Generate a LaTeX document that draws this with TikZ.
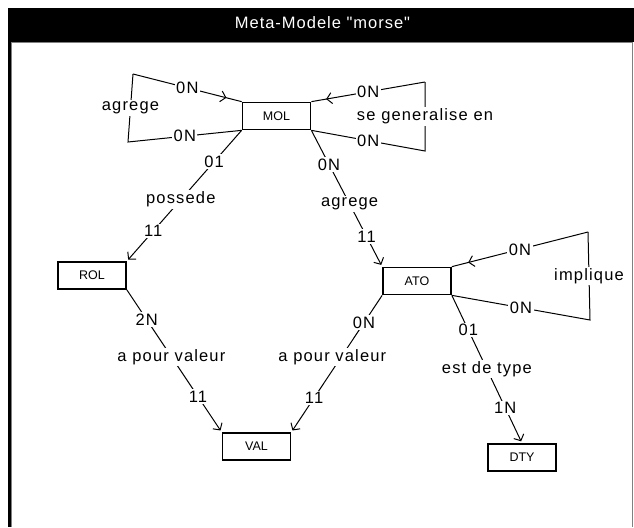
\documentclass[tikz,border=0pt]{standalone}
\usepackage{fontspec}
\setmainfont{Liberation Sans}[LetterSpace=7]
\newfontfamily\boxfont{Liberation Sans}
% plain family, so that " stays a straight quote
\newfontfamily\titlefont{Liberation Sans}[LetterSpace=6]
\usetikzlibrary{arrows.meta,decorations.markings}

\begin{document}
\begin{tikzpicture}[x=1pt,y=-1pt,
  entity/.style={draw, line width=1.7pt, minimum width=68pt, minimum height=27pt,
    inner sep=0pt, font=\boxfont\fontsize{12.5}{14}\selectfont},
  lbl/.style={fill=white, inner sep=1.5pt, font=\fontsize{16.5}{18}\selectfont},
  link/.style={line width=1pt},
  barb/.tip={Straight Barb[length=5pt,width=11pt]},
  arr/.style={link, -{barb}, shorten >=2pt},
  midarrow/.style={postaction={decorate}, decoration={markings,
    mark=at position #1 with {\arrow{barb}}}}]
\useasboundingbox (0,0) rectangle (634,527);

% window frame and title bar
\fill (8,8) rectangle (634,42);
\fill (8,42) rectangle (10.5,527);
\draw[gray, line width=1pt] (11,42.5) -- (632,42.5);
\draw[gray, line width=1pt] (11,42) -- (11,527);
\draw[gray, line width=1pt] (632.5,42) -- (632.5,527);
\node[white, anchor=base, font=\titlefont\fontsize{16.5}{18}\selectfont] (title) at (322.5,29) {Meta-Modele "morse"};

% entities
\node[entity] (MOL) at (276.5,116) {MOL};
\node[entity] (ROL) at (92,275.5) {ROL};
\node[entity] (ATO) at (417,281) {ATO};
\node[entity] (VAL) at (256.5,446.5) {VAL};
\node[entity] (DTY) at (522,457.5) {DTY};

% corners of the reflexive links
\coordinate (agTop) at (133,74);
\coordinate (agBot) at (128,142);
\coordinate (sgTop) at (425,82);
\coordinate (sgBot) at (425,151);
\coordinate (imTop) at (588,232);
\coordinate (imBot) at (590,320);

% reflexive link: agrege
\draw[link] (MOL.south west) -- node[lbl]{0N} (agBot) -- node[lbl]{agrege} (agTop);
\draw[link, midarrow=0.86] (agTop) -- node[lbl]{0N} (MOL.north west);

% reflexive link: se generalise en
\draw[link] (MOL.south east) -- node[lbl]{0N} (sgBot) -- node[lbl]{se generalise en} (sgTop);
\draw[link, midarrow=0.87] (sgTop) -- node[lbl]{0N} (MOL.north east);

% reflexive link: implique
\draw[link] (ATO.south east) -- node[lbl]{0N} (imBot) -- node[lbl]{implique} (imTop);
\draw[link, midarrow=0.88] (imTop) -- node[lbl]{0N} (ATO.north east);

% binary links
\draw[arr] (MOL.south west) -- node[lbl,pos=.24]{01} node[lbl,pos=.53]{possede}
  node[lbl,pos=.77]{11} (ROL.north east);
\draw[arr] (MOL.south east) -- node[lbl,pos=.25]{0N} node[lbl,pos=.54]{agrege}
  node[lbl,pos=.78]{11} (ATO.north west);
\draw[arr] (ROL.south east) -- node[lbl,pos=.21]{2N} node[lbl,pos=.47]{a pour valeur}
  node[lbl,pos=.75]{11} (VAL.north west);
\draw[arr] (ATO.south west) -- node[lbl,pos=.2]{0N} node[lbl,pos=.45,xshift=-9pt]{a pour valeur}
  node[lbl,pos=.75]{11} (VAL.north east);
\draw[arr] (ATO.south east) -- node[lbl,pos=.235]{01} node[lbl,pos=.5]{est de type}
  node[lbl,pos=.76]{1N} (DTY.north);
\end{tikzpicture}
\end{document}
